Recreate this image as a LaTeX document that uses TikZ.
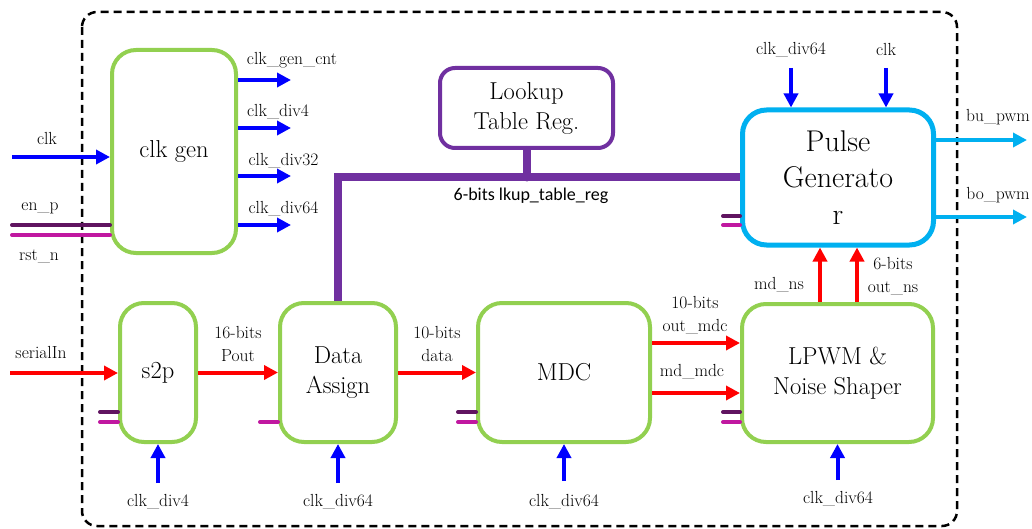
\documentclass[tikz,border=0pt]{standalone}
\usepackage{fontspec}
\newfontfamily\lblsans{Carlito}
\usetikzlibrary{arrows.meta}
\definecolor{cgreen}{RGB}{146,208,80}
\definecolor{ccyan}{RGB}{0,176,240}
\definecolor{cpurple}{RGB}{112,48,160}
\definecolor{cdpurple}{RGB}{96,20,96}
\definecolor{cmag}{RGB}{192,24,160}
\definecolor{cblue}{RGB}{0,0,255}
\definecolor{cred}{RGB}{255,0,0}
\begin{document}
\begin{tikzpicture}[x=1pt,y=-1pt,
  blk/.style={draw=cgreen, line width=4pt, rounded corners=24pt, font=\fontsize{24.5}{30}\selectfont, align=center, inner sep=0pt},
  lbl/.style={font=\fontsize{17.5}{23}\selectfont, align=center, inner sep=0pt},
  arr/.style={line width=4pt, -{Triangle[length=14pt,width=14pt]}},
  barr/.style={arr, draw=cblue},
  rarr/.style={arr, draw=cred},
  carr/.style={arr, draw=ccyan},
  stubA/.style={draw=cdpurple, line width=4pt, line cap=round},
  stubB/.style={draw=cmag, line width=4pt, line cap=round},
  bus/.style={draw=cpurple, line width=8pt},
  outer/.style={draw=black, line width=2.5pt, dash pattern=on 8pt off 5pt, rounded corners=15pt}
]
\useasboundingbox (0,0) rectangle (1032,529);
\draw[outer] (82,12) rectangle (957,526);

% blocks
\node[blk, minimum width=124pt, minimum height=203pt] (clkgen) at (174,151.5) {clk gen};
\node[blk, minimum width=76pt, minimum height=139pt] (s2p) at (158,372.5) {s2p};
\node[blk, minimum width=116pt, minimum height=139pt] (da) at (338,372.5) {Data\\Assign};
\node[blk, minimum width=172pt, minimum height=139pt] (mdc) at (564,372.5) {MDC};
\node[blk, minimum width=191pt, minimum height=138pt] (lpwm) at (837.5,373) {LPWM \&\\Noise Shaper};
\node[blk, draw=ccyan, line width=5pt, minimum width=191pt, minimum height=135pt, font=\fontsize{30}{36.5}\selectfont] (pg) at (838,177.5) {Pulse\\Generato\\r};
\node[blk, draw=cpurple, rounded corners=15pt, minimum width=173pt, minimum height=80pt] (lut) at (526.5,108) {Lookup\\Table Reg.};

% bus
\draw[bus] (da.north) |- (pg.west);
\draw[bus, line cap=round] (lut.south) -- (lut.south |- pg.west);
\node[lbl, font=\lblsans\fontsize{18}{22}\selectfont] (lkl) at (531,196) {6-bits lkup\_table\_reg};

% clk gen inputs
\coordinate (iclk) at (12,157);
\draw[barr] (iclk) -- (iclk -| clkgen.west);
\node[lbl] (lclk) at (47,138) {clk};
\coordinate (ien) at (12,225);
\draw[stubA] (ien) -- (ien -| clkgen.west);
\node[lbl] (len) at (40,208) {en\_p};
\coordinate (irst) at (12,235);
\draw[stubB] (irst) -- (irst -| clkgen.west);
\node[lbl] (lrst) at (39,256) {rst\_n};

% clk gen outputs
\coordinate (o1) at (291,80);
\coordinate (o2) at (291,128);
\coordinate (o3) at (291,176);
\coordinate (o4) at (291,225);
\draw[barr] (o1 -| clkgen.east) -- (o1);
\draw[barr] (o2 -| clkgen.east) -- (o2);
\draw[barr] (o3 -| clkgen.east) -- (o3);
\draw[barr] (o4 -| clkgen.east) -- (o4);
\node[lbl] (lo1) at (292,60) {clk\_gen\_cnt};
\node[lbl] (lo2) at (278,112) {clk\_div4};
\node[lbl] (lo3) at (283.5,161) {clk\_div32};
\node[lbl] (lo4) at (283.5,209) {clk\_div64};

% serial in and data path
\coordinate (iser) at (10,373);
\draw[rarr] (iser) -- (iser -| s2p.west);
\node[lbl] (lser) at (41,352) {serialIn};
\draw[rarr] (s2p.east) -- (da.west);
\node[lbl] (lpout) at (238,344) {16-bits\\Pout};
\draw[rarr] (da.east) -- (mdc.west);
\node[lbl] (ldata) at (437,344) {10-bits\\data};
\coordinate (m1) at (650,343);
\coordinate (m2) at (650,393);
\draw[rarr] (m1 -| mdc.east) -- (m1 -| lpwm.west);
\draw[rarr] (m2 -| mdc.east) -- (m2 -| lpwm.west);
\node[lbl] (lomdc) at (695,315.5) {10-bits\\out\_mdc};
\node[lbl] (lmdmdc) at (692,372) {md\_mdc};

% lpwm to pulse generator
\coordinate (u1) at (820,300);
\coordinate (u2) at (857,300);
\draw[rarr] (u1 |- lpwm.north) -- (u1 |- pg.south);
\draw[rarr] (u2 |- lpwm.north) -- (u2 |- pg.south);
\node[lbl] (lmdns) at (779,285) {md\_ns};
\node[lbl] (loutns) at (893,276) {6-bits\\out\_ns};

% stubs
\coordinate (sa1) at (100,412); \coordinate (sb1) at (100,422);
\draw[stubA] (sa1) -- (sa1 -| s2p.west);
\draw[stubB] (sb1) -- (sb1 -| s2p.west);
\coordinate (sb2) at (260,422);
\draw[stubB] (sb2) -- (sb2 -| da.west);
\coordinate (sa3) at (458,412); \coordinate (sb3) at (458,422);
\draw[stubA] (sa3) -- (sa3 -| mdc.west);
\draw[stubB] (sb3) -- (sb3 -| mdc.west);
\coordinate (sa4) at (723,412); \coordinate (sb4) at (723,422);
\draw[stubA] (sa4) -- (sa4 -| lpwm.west);
\draw[stubB] (sb4) -- (sb4 -| lpwm.west);
\coordinate (sa5) at (723,216); \coordinate (sb5) at (723,225);
\draw[stubA] (sa5) -- (sa5 -| pg.west);
\draw[stubB] (sb5) -- (sb5 -| pg.west);

% bottom clocks
\coordinate (b1) at (158,483);
\coordinate (b2) at (338,483);
\coordinate (b3) at (564,481);
\coordinate (b4) at (837.5,480);
\draw[barr] (b1) -- (s2p.south);
\draw[barr] (b2) -- (da.south);
\draw[barr] (b3) -- (mdc.south);
\draw[barr] (b4) -- (lpwm.south);
\node[lbl] (lb1) at (158,502) {clk\_div4};
\node[lbl] (lb2) at (338,502) {clk\_div64};
\node[lbl] (lb3) at (564,502) {clk\_div64};
\node[lbl] (lb4) at (838,499) {clk\_div64};

% pulse generator top inputs
\coordinate (t1) at (791,68);
\coordinate (t2) at (886,68);
\draw[barr] (t1) -- (t1 |- pg.north);
\draw[barr] (t2) -- (t2 |- pg.north);
\node[lbl] (lt1) at (791,50) {clk\_div64};
\node[lbl] (lt2) at (886,50) {clk};

% outputs
\coordinate (bu) at (1027,140);
\coordinate (bo) at (1027,217);
\draw[carr] (bu -| pg.east) -- (bu);
\draw[carr] (bo -| pg.east) -- (bo);
\node[lbl] (lbu) at (998,117) {bu\_pwm};
\node[lbl] (lbo) at (998,195) {bo\_pwm};
\end{tikzpicture}
\end{document}
